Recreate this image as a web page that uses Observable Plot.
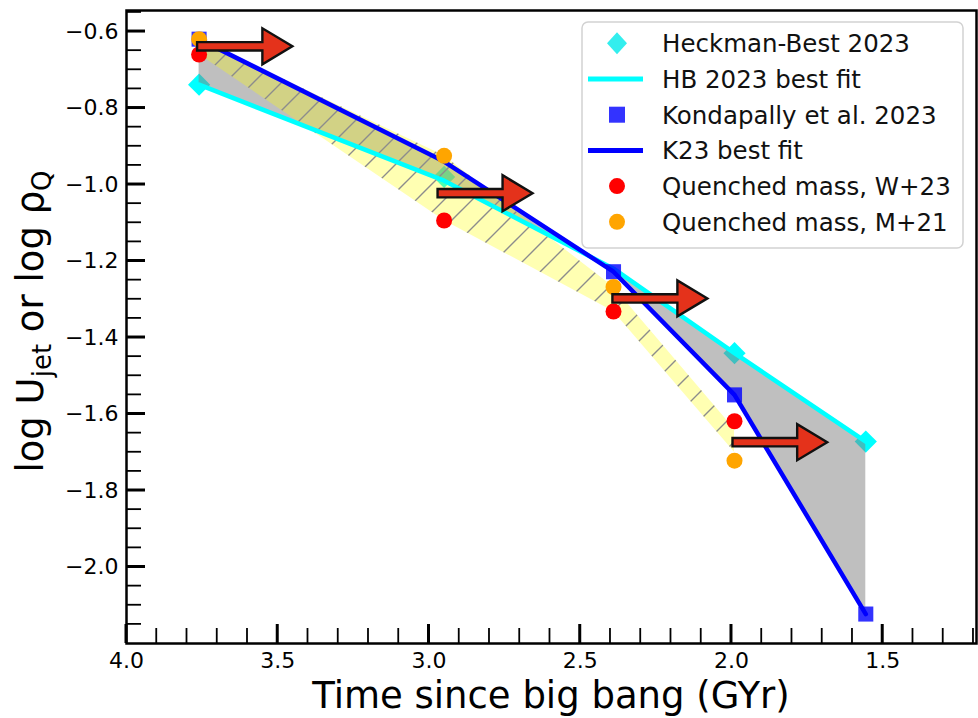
<!DOCTYPE html>
<html><head><meta charset="utf-8">
<script src="https://cdn.jsdelivr.net/npm/d3@7"></script>
<script src="https://cdn.jsdelivr.net/npm/@observablehq/plot@0.6"></script>
<style>
html,body{margin:0;padding:0;background:#fff;}
#chart{width:978px;height:718px;}
</style></head><body><div id="chart"></div>
<script>
// ---------- data ----------
const hbTime   = [3.76, 2.95, 1.99, 1.556];
const hbValue  = [-0.739, -0.98, -1.441, -1.672];          // Heckman-Best 2023 points
const fitTime  = [3.76, 2.95, 2.39, 1.99, 1.556];
const hbFit    = [-0.739, -0.99, -1.22, -1.441, -1.672];   // HB 2023 best fit
const k23Fit   = [-0.62, -0.94, -1.228, -1.55, -2.123];    // K23 best fit
const k23Time  = [3.76, 2.39, 1.99, 1.556];
const k23Value = [-0.62, -1.228, -1.55, -2.123];           // Kondapally et al. 2023
const qTime    = [3.76, 2.95, 2.39, 1.99];
const w23Value = [-0.66, -1.094, -1.332, -1.619];          // Quenched mass, W+23
const m21Value = [-0.62, -0.925, -1.268, -1.722];          // Quenched mass, M+21
const bandTime  = [3.76, 2.95, 2.39, 1.99];
const bandUpper = [-0.62, -0.925, -1.268, -1.64];
const bandLower = [-0.66, -1.094, -1.332, -1.70];
const arrowTail = [3.765, 2.97, 2.392, 1.995];
const arrowTip  = [3.45, 2.656, 2.078, 1.682];
const arrowY    = [-0.64, -1.024, -1.299, -1.675];
const xMajor = [4.0, 3.5, 3.0, 2.5, 2.0, 1.5];
const xMinor = d3.range(39, 11, -1).map(d => d / 10).filter(d => Math.round(d * 10) % 5 !== 0);
const yMajor = [-0.6, -0.8, -1.0, -1.2, -1.4, -1.6, -1.8, -2.0];
const yMinor = d3.range(-215, -54, 5).map(d => d / 100).filter(d => Math.round(d * 100) % 20 !== 0);
const legendLabels = ["Heckman-Best 2023", "HB 2023 best fit", "Kondapally et al. 2023", "K23 best fit", "Quenched mass, W+23", "Quenched mass, M+21"];

// ---------- tables ----------
const hbRows   = hbTime.map((t, i) => ({t, v: hbValue[i]}));
const fitRows  = fitTime.map((t, i) => ({t, hb: hbFit[i], k23: k23Fit[i]}));
const k23Rows  = k23Time.map((t, i) => ({t, v: k23Value[i]}));
const w23Rows  = qTime.map((t, i) => ({t, v: w23Value[i]}));
const m21Rows  = qTime.map((t, i) => ({t, v: m21Value[i]}));
const bandRows = bandTime.map((t, i) => ({t, hi: bandUpper[i], lo: bandLower[i]}));

const W = 978, H = 718;
const FONT = "'DejaVu Sans', 'Liberation Sans', sans-serif";

function hatchDefs() {
  const defs = d3.create("svg:defs");
  const p = defs.append("pattern").attr("id", "hatch").attr("patternUnits", "userSpaceOnUse")
    .attr("width", 28).attr("height", 28);
  p.append("path").attr("d", "M-3,3 L3,-3 M0,28 L28,0 M25,31 L31,25")
    .attr("stroke", "#8c8c8c").attr("stroke-width", 1.4).attr("fill", "none");
  return defs.node();
}

function arrowsMark(index, scales) {
  const g = d3.create("svg:g");
  arrowY.forEach((yv, i) => {
    const x0 = scales.x(arrowTail[i]), x1 = scales.x(arrowTip[i]), y = scales.y(yv);
    const hb = x1 - 30, s = 4.2, h = 18;
    g.append("path")
      .attr("d", `M${x0},${y - s}L${hb},${y - s}L${hb},${y - h}L${x1},${y}L${hb},${y + h}L${hb},${y + s}L${x0},${y + s}Z`)
      .attr("fill", "#e4321b").attr("stroke", "#111").attr("stroke-width", 2.4).attr("stroke-linejoin", "miter");
  });
  return g.node();
}

function ticksMark(index, scales, values, dims) {
  const g = d3.create("svg:g").attr("stroke", "black");
  const yb = dims.height - dims.marginBottom, xl = dims.marginLeft;
  for (const v of xMinor) g.append("line").attr("x1", scales.x(v)).attr("x2", scales.x(v)).attr("y1", yb).attr("y2", yb - 15).attr("stroke-width", 1.8);
  for (const v of xMajor) g.append("line").attr("x1", scales.x(v)).attr("x2", scales.x(v)).attr("y1", yb).attr("y2", yb - 19).attr("stroke-width", 3);
  for (const v of yMinor) g.append("line").attr("y1", scales.y(v)).attr("y2", scales.y(v)).attr("x1", xl).attr("x2", xl + 15).attr("stroke-width", 1.8);
  for (const v of yMajor) g.append("line").attr("y1", scales.y(v)).attr("y2", scales.y(v)).attr("x1", xl).attr("x2", xl + 19).attr("stroke-width", 3);
  return g.node();
}

function titlesMark(index, scales, values, dims) {
  const g = d3.create("svg:g").attr("fill", "black").attr("font-family", FONT);
  const cx = dims.marginLeft + (dims.width - dims.marginLeft - dims.marginRight) / 2;
  const cy = dims.marginTop + (dims.height - dims.marginTop - dims.marginBottom) / 2;
  g.append("text").attr("x", cx).attr("y", dims.height - 10).attr("text-anchor", "middle")
    .attr("font-size", 37).text("Time since big bang (GYr)");
  const t = g.append("text").attr("transform", `translate(43,${cy - 5}) rotate(-90)`)
    .attr("text-anchor", "middle").attr("font-size", 37);
  t.append("tspan").text("log U");
  t.append("tspan").attr("dy", 8).attr("font-size", 26).text("jet");
  t.append("tspan").attr("dy", -8).text(" or log ρ");
  t.append("tspan").attr("dy", 8).attr("font-size", 26).text("Q");
  return g.node();
}

function legendMark() {
  const g = d3.create("svg:g").attr("font-family", FONT).attr("text-anchor", "start");
  g.append("rect").attr("x", 582).attr("y", 22).attr("width", 381).attr("height", 226).attr("rx", 6)
    .attr("fill", "white").attr("fill-opacity", 0.85).attr("stroke", "#d2d2d2").attr("stroke-width", 1.5);
  const mx = 617, tx = 662, y0 = 43.3, dy = 35.7;
  const rows = legendLabels.map((lab, i) => ({lab, y: y0 + i * dy}));
  g.append("path").attr("d", `M${mx},${rows[0].y - 11}L${mx + 10},${rows[0].y}L${mx},${rows[0].y + 11}L${mx - 10},${rows[0].y}Z`).attr("fill", "#33eeee");
  g.append("line").attr("x1", 588).attr("x2", 643).attr("y1", rows[1].y).attr("y2", rows[1].y).attr("stroke", "cyan").attr("stroke-width", 5);
  g.append("rect").attr("x", mx - 8).attr("y", rows[2].y - 8).attr("width", 16).attr("height", 16).attr("fill", "#3333ff");
  g.append("line").attr("x1", 588).attr("x2", 643).attr("y1", rows[3].y).attr("y2", rows[3].y).attr("stroke", "blue").attr("stroke-width", 5);
  g.append("circle").attr("cx", mx).attr("cy", rows[4].y).attr("r", 8).attr("fill", "red");
  g.append("circle").attr("cx", mx).attr("cy", rows[5].y).attr("r", 8).attr("fill", "orange");
  for (const r of rows) g.append("text").attr("x", tx).attr("y", r.y + 8.8).attr("font-size", 24.5)
    .attr("text-anchor", "start").attr("fill", "#111").text(r.lab);
  return g.node();
}

const chart = Plot.plot({
  width: W, height: H,
  marginLeft: 126, marginRight: 2, marginTop: 10, marginBottom: 75,
  style: {fontFamily: FONT, fontSize: "22px", color: "black", background: "white", overflow: "visible"},
  x: {domain: [4.0, 1.19], label: null},
  y: {domain: [-2.2, -0.545], label: null},
  marks: [
    hatchDefs,
    Plot.dot(hbRows, {x: "t", y: "v", symbol: "diamond2", r: 10, fill: "cyan"}),
    Plot.areaY(fitRows, {x: "t", y1: "hb", y2: "k23", fill: "gray", fillOpacity: 0.5}),
    Plot.areaY(bandRows, {x: "t", y1: "lo", y2: "hi", fill: "yellow", fillOpacity: 0.3}),
    Plot.areaY(bandRows, {x: "t", y1: "lo", y2: "hi", fill: "url(#hatch)"}),
    Plot.line(fitRows, {x: "t", y: "hb", stroke: "cyan", strokeWidth: 4.5}),
    Plot.line(fitRows, {x: "t", y: "k23", stroke: "blue", strokeWidth: 4.5}),
    Plot.dot(k23Rows, {x: "t", y: "v", symbol: "square", r: 8.5, fill: "blue", fillOpacity: 0.8}),
    Plot.dot(w23Rows, {x: "t", y: "v", r: 8, fill: "red"}),
    Plot.dot(m21Rows, {x: "t", y: "v", r: 8, fill: "orange"}),
    arrowsMark,
    Plot.frame({stroke: "black", strokeWidth: 2.5}),
    Plot.axisX(xMajor, {tickSize: 0, tickPadding: 9, tickFormat: ".1f", fontSize: 22}),
    Plot.axisY(yMajor, {tickSize: 0, tickPadding: 8, tickFormat: ".1f", fontSize: 22}),
    ticksMark,
    titlesMark,
    legendMark
  ]
});
document.getElementById("chart").appendChild(chart);
</script>
</body></html>
